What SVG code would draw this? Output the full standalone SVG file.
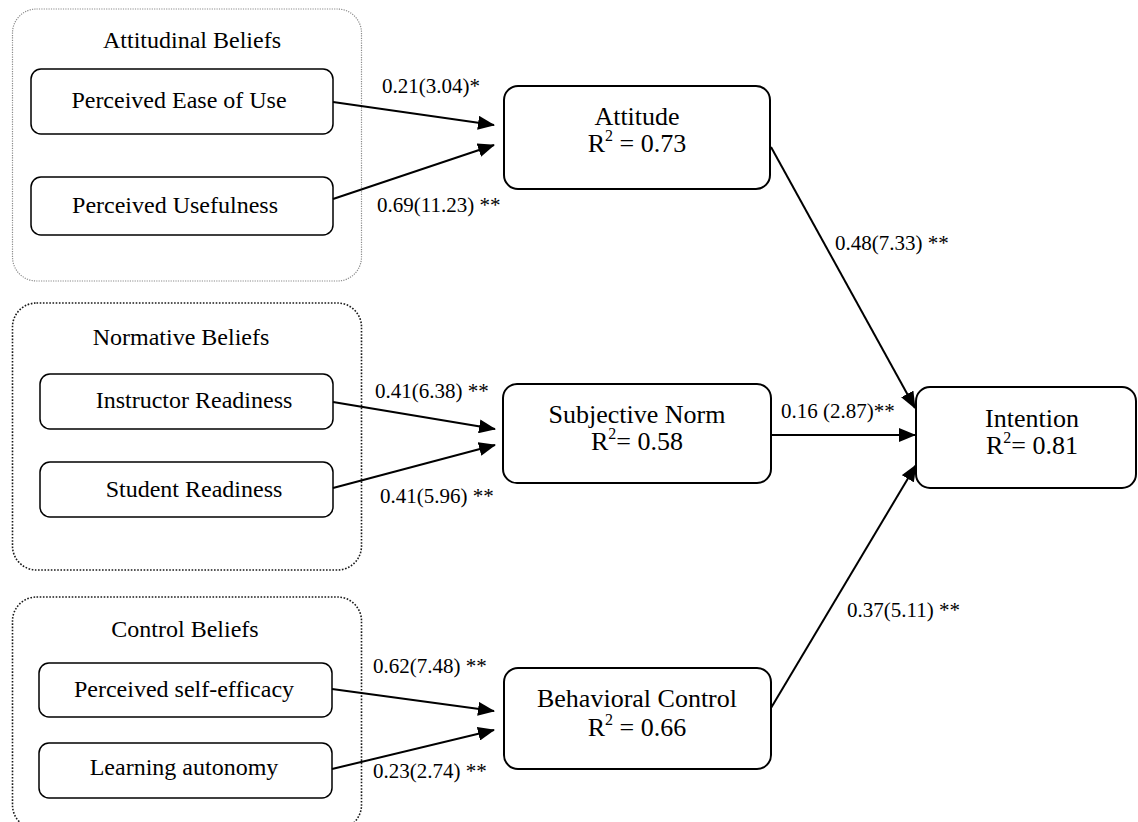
<svg xmlns="http://www.w3.org/2000/svg" width="1138" height="822" viewBox="0 0 1138 822">
  <style>
    text { font-family: "Liberation Serif", "Times New Roman", serif; fill: #000; }
    .group-light { fill: none; stroke: #8a8a8a; stroke-width: 1.2; stroke-dasharray: 1.2 1.2; }
    .group-dark { fill: none; stroke: #1a1a1a; stroke-width: 1.6; stroke-dasharray: 1.6 1.6; }
    .belief { fill: #fff; stroke: #000; stroke-width: 1.5; }
    .construct { fill: #fff; stroke: #000; stroke-width: 2; }
    .title { font-size: 24px; text-anchor: middle; }
    .item { font-size: 24px; text-anchor: middle; }
    .name { font-size: 26px; text-anchor: middle; }
    .sup { font-size: 16px; }
    .coef { font-size: 21px; }
    .path { fill: none; stroke: #000; stroke-width: 2; marker-end: url(#head); }
  </style>
  <defs>
    <marker id="head" markerUnits="userSpaceOnUse" markerWidth="17" markerHeight="14" viewBox="0 0 17 14" refX="16" refY="7" orient="auto">
      <path d="M0,0 L17,7 L0,14 Z" fill="#000"/>
    </marker>
  </defs>

  <!-- Belief groups -->
  <g id="attitudinal-beliefs">
    <rect class="group-light" x="12.5" y="9" width="349" height="272" rx="24"/>
    <text class="title" x="192" y="48">Attitudinal Beliefs</text>
  </g>
  <g id="perceived-ease-of-use">
    <rect class="belief" x="31" y="69" width="302" height="65" rx="10"/>
    <text class="item" x="179" y="108">Perceived Ease of Use</text>
  </g>
  <g id="perceived-usefulness">
    <rect class="belief" x="31" y="177" width="302" height="58" rx="10"/>
    <text class="item" x="175" y="213">Perceived Usefulness</text>
  </g>

  <g id="normative-beliefs">
    <rect class="group-dark" x="12.5" y="303" width="349" height="267" rx="24"/>
    <text class="title" x="181" y="345">Normative Beliefs</text>
  </g>
  <g id="instructor-readiness">
    <rect class="belief" x="40" y="374" width="293" height="55" rx="10"/>
    <text class="item" x="194" y="408">Instructor Readiness</text>
  </g>
  <g id="student-readiness">
    <rect class="belief" x="40" y="462" width="293" height="55" rx="10"/>
    <text class="item" x="194" y="497">Student Readiness</text>
  </g>

  <g id="control-beliefs">
    <rect class="group-dark" x="12.5" y="597" width="349" height="232" rx="24"/>
    <text class="title" x="185" y="637">Control Beliefs</text>
  </g>
  <g id="perceived-self-efficacy">
    <rect class="belief" x="39" y="663" width="293" height="54" rx="10"/>
    <text class="item" x="184" y="697">Perceived self-efficacy</text>
  </g>
  <g id="learning-autonomy">
    <rect class="belief" x="39" y="743" width="293" height="55" rx="10"/>
    <text class="item" x="184" y="775">Learning autonomy</text>
  </g>

  <!-- Constructs: name on the first line, explained variance on the second -->
  <g id="attitude">
    <rect class="construct" x="504" y="86" width="266" height="103" rx="14"/>
    <text class="name"><tspan x="637" y="125">Attitude</tspan><tspan x="637" y="152">R</tspan><tspan class="sup" dy="-11">2</tspan><tspan dy="11"> = 0.73</tspan></text>
  </g>
  <g id="subjective-norm">
    <rect class="construct" x="503" y="384" width="268" height="99" rx="14"/>
    <text class="name"><tspan x="637" y="423">Subjective Norm</tspan><tspan x="637" y="450">R</tspan><tspan class="sup" dy="-11">2</tspan><tspan dy="11">= 0.58</tspan></text>
  </g>
  <g id="behavioral-control">
    <rect class="construct" x="504" y="668" width="267" height="101" rx="14"/>
    <text class="name"><tspan x="637" y="707">Behavioral Control</tspan><tspan x="637" y="736">R</tspan><tspan class="sup" dy="-11">2</tspan><tspan dy="11"> = 0.66</tspan></text>
  </g>
  <g id="intention">
    <rect class="construct" x="916" y="387" width="220" height="101" rx="14"/>
    <text class="name"><tspan x="1032" y="427">Intention</tspan><tspan x="1032" y="454">R</tspan><tspan class="sup" dy="-11">2</tspan><tspan dy="11">= 0.81</tspan></text>
  </g>

  <!-- Structural paths -->
  <g id="connectors">
    <line class="path" x1="333" y1="102" x2="494" y2="125"/>
    <line class="path" x1="333" y1="199" x2="494" y2="145"/>
    <line class="path" x1="333" y1="402" x2="495" y2="429"/>
    <line class="path" x1="333" y1="488" x2="495" y2="445"/>
    <line class="path" x1="332" y1="689" x2="494" y2="711"/>
    <line class="path" x1="332" y1="769" x2="494" y2="730"/>
    <line class="path" x1="771" y1="147" x2="915" y2="408"/>
    <line class="path" x1="771" y1="435" x2="915" y2="435"/>
    <line class="path" x1="771" y1="708" x2="916" y2="465"/>
  </g>

  <!-- Path coefficients (t-values) -->
  <g id="coefficients">
    <text class="coef" x="382" y="93">0.21(3.04)*</text>
    <text class="coef" x="377" y="212">0.69(11.23) **</text>
    <text class="coef" x="375" y="398">0.41(6.38) **</text>
    <text class="coef" x="380" y="503">0.41(5.96) **</text>
    <text class="coef" x="373" y="673">0.62(7.48) **</text>
    <text class="coef" x="373" y="778">0.23(2.74) **</text>
    <text class="coef" x="835" y="250">0.48(7.33) **</text>
    <text class="coef" x="781" y="418">0.16 (2.87)**</text>
    <text class="coef" x="847" y="617">0.37(5.11) **</text>
  </g>
</svg>
